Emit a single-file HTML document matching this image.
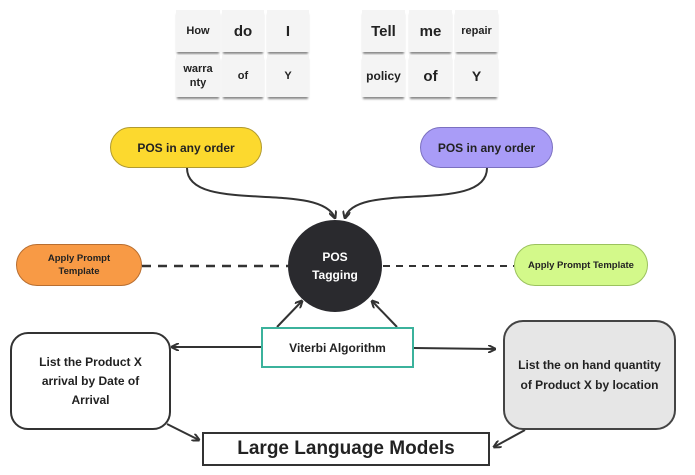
<!DOCTYPE html>
<html><head><meta charset="utf-8"><style>
html,body{margin:0;padding:0;background:#fff;}
body{width:695px;height:475px;position:relative;overflow:hidden;font-family:"Liberation Sans",sans-serif;font-weight:bold;color:#222;}
.t{position:absolute;background:#f4f4f4;display:flex;align-items:center;justify-content:center;text-align:center;box-shadow:0 3px 2px -1px #888;}
.b{position:absolute;display:flex;align-items:center;justify-content:center;text-align:center;box-sizing:border-box;}
svg{position:absolute;left:0;top:0;}
</style></head><body>
<div class="t" style="left:176px;top:10px;width:44px;height:42px;font-size:11px">How</div>
<div class="t" style="left:222px;top:10px;width:42px;height:42px;font-size:15px">do</div>
<div class="t" style="left:267px;top:10px;width:42px;height:42px;font-size:15px">I</div>
<div class="t" style="left:176px;top:55px;width:44px;height:42px;font-size:11px;line-height:14px">warra<br>nty</div>
<div class="t" style="left:222px;top:55px;width:42px;height:42px;font-size:11px">of</div>
<div class="t" style="left:267px;top:55px;width:42px;height:42px;font-size:11px">Y</div>
<div class="t" style="left:362px;top:10px;width:43px;height:42px;font-size:15px">Tell</div>
<div class="t" style="left:409px;top:10px;width:43px;height:42px;font-size:15px">me</div>
<div class="t" style="left:455px;top:10px;width:43px;height:42px;font-size:11px">repair</div>
<div class="t" style="left:362px;top:55px;width:43px;height:42px;font-size:12px">policy</div>
<div class="t" style="left:409px;top:55px;width:43px;height:42px;font-size:15px">of</div>
<div class="t" style="left:455px;top:55px;width:43px;height:42px;font-size:14px">Y</div>

<svg width="695" height="475">
<defs><marker id="a" markerWidth="8" markerHeight="8" refX="7" refY="4" orient="auto" markerUnits="userSpaceOnUse"><path d="M0,0 L8,4 L0,8" fill="none" stroke="#333" stroke-width="2"/></marker></defs>
<g stroke="#333" stroke-width="2" fill="none">
<path d="M187,168 C187,215 320,180 335,218" marker-end="url(#a)"/>
<path d="M487,168 C487,215 355,180 345,218" marker-end="url(#a)"/>
<path d="M142,266 L288,266" stroke-dasharray="9,7" stroke-width="2.5"/>
<path d="M383,266 L514,266" stroke-dasharray="7,6"/>
<path d="M277,327 L302,301" marker-end="url(#a)"/>
<path d="M397,327 L372,301" marker-end="url(#a)"/>
<path d="M261,347 L172,347" marker-end="url(#a)"/>
<path d="M414,348 L495,349" marker-end="url(#a)"/>
<path d="M167,424 L199,440" marker-end="url(#a)"/>
<path d="M525,430 L494,447" marker-end="url(#a)"/>
</g>
<ellipse cx="335" cy="266" rx="47" ry="46" fill="#2a2a2e"/>
</svg>

<div class="b" style="left:110px;top:127px;width:152px;height:41px;background:#fcd92e;border:1px solid #b09a30;border-radius:21px;font-size:12px">POS in any order</div>
<div class="b" style="left:420px;top:127px;width:133px;height:41px;background:#a99cf7;border:1px solid #7b70c0;border-radius:21px;font-size:12px">POS in any order</div>
<div class="b" style="left:16px;top:244px;width:126px;height:42px;background:#f89a45;border:1px solid #b86e30;border-radius:21px;font-size:9.5px;line-height:13px">Apply Prompt<br>Template</div>
<div class="b" style="left:514px;top:244px;width:134px;height:42px;background:#d3f98a;border:1px solid #9bc25e;border-radius:21px;font-size:9.5px">Apply Prompt Template</div>
<div class="b" style="left:288px;top:244px;width:94px;height:44px;color:#fff;font-size:12px;line-height:18px">POS<br>Tagging</div>
<div class="b" style="left:261px;top:327px;width:153px;height:41px;background:#fff;border:2px solid #3bb29c;font-size:12px">Viterbi Algorithm</div>
<div class="b" style="left:10px;top:332px;width:161px;height:98px;background:#fff;border:2px solid #333;border-radius:18px;font-size:12px;line-height:19px;padding:0 14px">List the Product X arrival by Date of Arrival</div>
<div class="b" style="left:503px;top:320px;width:173px;height:110px;background:#e6e6e6;border:2px solid #444;border-radius:20px;font-size:12px;line-height:20px;padding:0 6px">List the on hand quantity of Product X by location</div>
<div class="b" style="left:202px;top:432px;width:288px;height:34px;background:#fff;border:2px solid #333;font-size:19px">Large Language Models</div>
</body></html>
